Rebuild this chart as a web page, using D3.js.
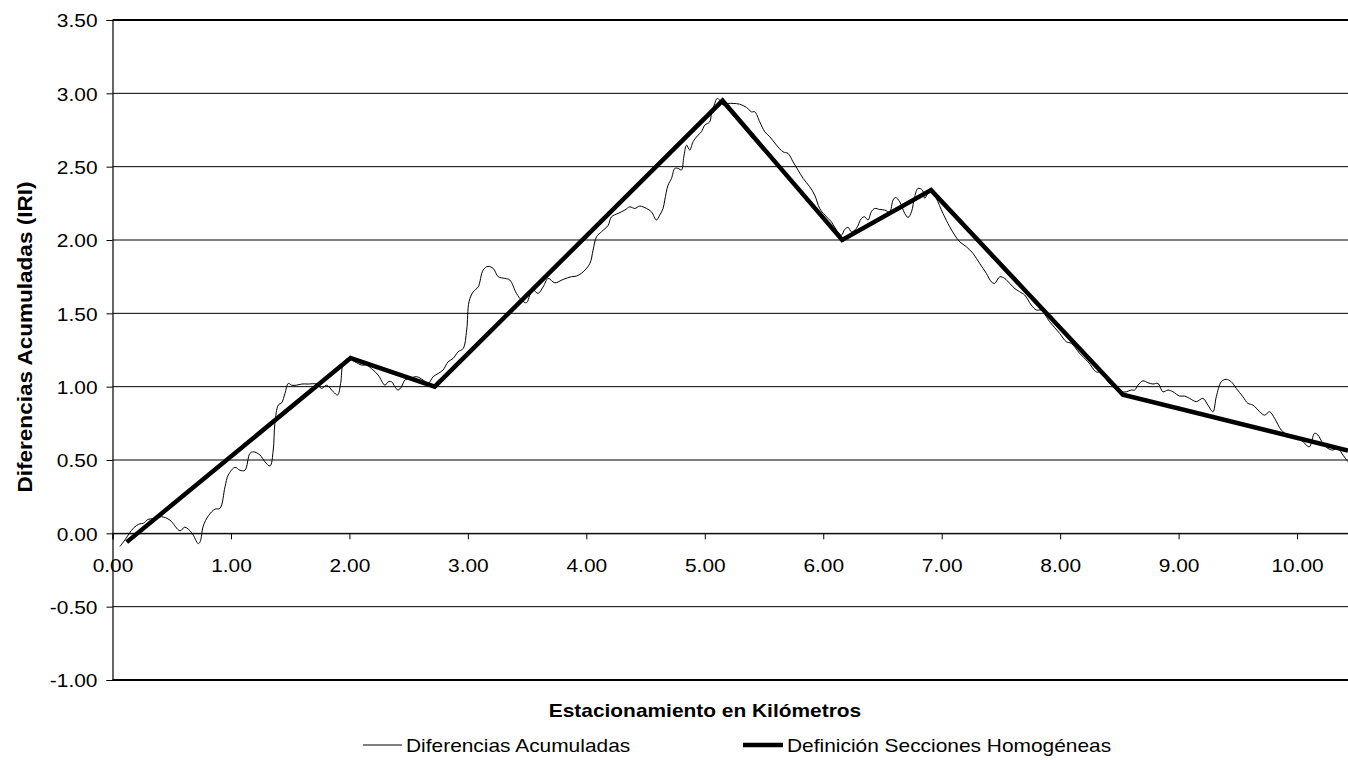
<!DOCTYPE html>
<html>
<head>
<meta charset="utf-8">
<script src="https://cdn.jsdelivr.net/npm/d3@7"></script>
<style>
  html, body { margin: 0; padding: 0; background: #fff; }
  svg { display: block; font-family: Arial, "Liberation Sans", sans-serif; }
</style>
</head>
<body>
<svg id="chart" width="1348" height="760"></svg>
<script>
// ---- data ----
const xTicks = [0, 1, 2, 3, 4, 5, 6, 7, 8, 9, 10];
const yTicks = [-1, -0.5, 0, 0.5, 1, 1.5, 2, 2.5, 3, 3.5];

const kmAcum = [0.063,0.105,0.176,0.23,0.26,0.30,0.345,0.415,0.485,0.57,0.61,0.668,0.724,0.74,0.766,0.81,0.865,0.907,0.95,0.977,1.034,1.076,1.118,1.16,1.19,1.245,1.287,1.33,1.357,1.371,1.40,1.428,1.456,1.484,1.512,1.554,1.597,1.653,1.723,1.765,1.807,1.864,1.90,1.926,1.948,1.99,2.046,2.103,2.145,2.20,2.243,2.30,2.327,2.356,2.384,2.41,2.44,2.468,2.51,2.567,2.623,2.665,2.707,2.75,2.79,2.834,2.876,2.918,2.96,2.99,3.01,3.045,3.087,3.129,3.17,3.214,3.256,3.312,3.354,3.41,3.453,3.495,3.523,3.55,3.593,3.635,3.678,3.734,3.804,3.875,3.917,3.973,4.03,4.057,4.086,4.128,4.184,4.212,4.268,4.325,4.367,4.409,4.451,4.508,4.55,4.592,4.62,4.648,4.662,4.69,4.719,4.747,4.775,4.803,4.823,4.846,4.873,4.901,4.943,4.972,5.0,5.042,5.057,5.084,5.104,5.127,5.154,5.197,5.239,5.295,5.352,5.394,5.422,5.464,5.506,5.549,5.605,5.661,5.703,5.745,5.787,5.83,5.886,5.928,5.97,6.013,6.069,6.111,6.154,6.181,6.21,6.238,6.28,6.322,6.35,6.378,6.406,6.435,6.477,6.519,6.561,6.589,6.61,6.646,6.688,6.716,6.745,6.772,6.80,6.837,6.857,6.884,6.927,6.955,7.011,7.068,7.11,7.152,7.208,7.264,7.321,7.377,7.419,7.447,7.49,7.532,7.574,7.616,7.658,7.70,7.757,7.80,7.84,7.911,7.996,8.052,8.094,8.165,8.235,8.306,8.348,8.404,8.46,8.516,8.559,8.60,8.629,8.657,8.699,8.741,8.783,8.826,8.868,8.91,8.952,9.008,9.05,9.093,9.149,9.205,9.247,9.29,9.318,9.36,9.402,9.445,9.487,9.543,9.585,9.627,9.684,9.726,9.768,9.81,9.867,9.923,9.979,10.035,10.078,10.105,10.148,10.176,10.218,10.26,10.302,10.345,10.387,10.43];
const valAcum = [-0.09,-0.045,0.035,0.065,0.068,0.095,0.10,0.113,0.09,0.017,0.042,0.005,-0.07,-0.057,0.05,0.12,0.165,0.17,0.318,0.397,0.45,0.43,0.43,0.545,0.556,0.534,0.488,0.459,0.568,0.75,0.875,0.89,0.954,1.022,1.01,1.01,1.018,1.018,1.018,0.988,1.01,0.965,0.943,1.022,1.159,1.193,1.17,1.147,1.147,1.113,1.079,1.01,1.033,1.033,1.0,0.977,1.0,1.045,1.056,1.068,1.045,1.022,1.068,1.09,1.113,1.17,1.193,1.238,1.26,1.386,1.58,1.647,1.68,1.795,1.82,1.806,1.75,1.738,1.727,1.636,1.59,1.572,1.624,1.659,1.636,1.68,1.738,1.708,1.731,1.75,1.754,1.783,1.84,1.931,2.022,2.056,2.10,2.158,2.181,2.204,2.226,2.215,2.231,2.215,2.192,2.136,2.17,2.215,2.272,2.374,2.42,2.488,2.488,2.477,2.567,2.647,2.613,2.67,2.715,2.738,2.783,2.806,2.863,2.931,2.965,2.954,2.92,2.931,2.931,2.926,2.904,2.874,2.874,2.806,2.738,2.704,2.647,2.601,2.59,2.533,2.477,2.42,2.363,2.306,2.215,2.17,2.124,2.068,2.033,2.072,2.086,2.056,2.079,2.147,2.158,2.136,2.192,2.215,2.208,2.204,2.192,2.272,2.29,2.26,2.181,2.154,2.192,2.295,2.352,2.34,2.284,2.318,2.329,2.284,2.181,2.09,2.033,1.988,1.954,1.909,1.84,1.772,1.715,1.704,1.749,1.738,1.704,1.67,1.647,1.625,1.556,1.522,1.522,1.443,1.363,1.306,1.295,1.227,1.17,1.10,1.10,1.033,0.988,0.965,0.965,0.977,0.977,1.01,1.04,1.027,1.018,1.022,0.965,0.977,0.965,0.936,0.936,0.92,0.898,0.92,0.875,0.829,0.931,1.033,1.05,1.033,0.988,0.931,0.886,0.875,0.829,0.806,0.829,0.784,0.704,0.67,0.648,0.636,0.602,0.59,0.682,0.67,0.613,0.579,0.568,0.579,0.534,0.488];

const kmSecc = [0.12, 2.01, 2.72, 5.15, 6.16, 6.91, 8.53, 10.43];
const valSecc = [-0.06, 1.195, 1.00, 2.95, 2.00, 2.34, 0.945, 0.565];

const xTitle = "Estacionamiento en Kilómetros";
const yTitle = "Diferencias Acumuladas (IRI)";
const seriesNames = ["Diferencias Acumuladas", "Definición Secciones Homogéneas"];

// ---- layout ----
const svg = d3.select("#chart");
const L = 112.5, R = 1348, T = 20, B = 680;
const x = d3.scaleLinear().domain([0, 10.43]).range([L, R]);
const y = d3.scaleLinear().domain([-1, 3.5]).range([B, T]);
const FS = 19;
const fmt = d => d.toFixed(2);

function stretch(sel, f) {
  sel.each(function() {
    const w = this.getComputedTextLength();
    d3.select(this).attr("textLength", w * f).attr("lengthAdjust", "spacingAndGlyphs");
  });
}

// gridlines
svg.append("g").selectAll("line").data(yTicks).join("line")
  .attr("x1", L).attr("x2", R)
  .attr("y1", d => y(d)).attr("y2", d => y(d))
  .attr("stroke", "#000")
  .attr("stroke-width", d => (d === 3.5 || d === -1) ? 2 : 1);

// y axis
const yAxis = d3.axisLeft(y).tickValues(yTicks).tickSize(6).tickPadding(9).tickFormat(fmt);
const gy = svg.append("g").attr("transform", `translate(${L},0)`).call(yAxis);
gy.select(".domain").attr("stroke", "#000").attr("stroke-width", 1.2);
gy.selectAll(".tick line").attr("stroke", "#000");
gy.selectAll(".tick text").attr("font-size", FS).attr("fill", "#000")
  .attr("font-family", "Arial, 'Liberation Sans', sans-serif").attr("dy", "0.36em");
stretch(gy.selectAll(".tick text"), 1.1);

// x axis at y = 0
const xAxis = d3.axisBottom(x).tickValues(xTicks).tickSize(6).tickPadding(19).tickFormat(fmt);
const gx = svg.append("g").attr("transform", `translate(0,${y(0)})`).call(xAxis);
gx.select(".domain").attr("stroke", "#000").attr("stroke-width", 1);
gx.selectAll(".tick line").attr("stroke", "#000");
gx.selectAll(".tick text").attr("font-size", FS).attr("fill", "#000")
  .attr("font-family", "Arial, 'Liberation Sans', sans-serif");
stretch(gx.selectAll(".tick text"), 1.1);

// clip
svg.append("clipPath").attr("id", "clip").append("rect")
  .attr("x", L).attr("y", T).attr("width", R - L).attr("height", B - T);

const plot = svg.append("g").attr("clip-path", "url(#clip)");

const acum = kmAcum.map((k, i) => [k, valAcum[i]]);
const secc = kmSecc.map((k, i) => [k, valSecc[i]]);

plot.append("path").datum(acum)
  .attr("d", d3.line().x(d => x(d[0])).y(d => y(d[1])).curve(d3.curveCatmullRom.alpha(0.5)))
  .attr("fill", "none").attr("stroke", "#000").attr("stroke-width", 1);

plot.append("path").datum(secc)
  .attr("d", d3.line().x(d => x(d[0])).y(d => y(d[1])))
  .attr("fill", "none").attr("stroke", "#000").attr("stroke-width", 4.5)
  .attr("stroke-linejoin", "miter");

// axis titles
const xt = svg.append("text").attr("x", 705).attr("y", 717)
  .attr("text-anchor", "middle").attr("font-weight", "bold").attr("font-size", FS)
  .text(xTitle);
stretch(xt, 1.1);

const yt = svg.append("text")
  .attr("transform", "translate(32,337) rotate(-90)")
  .attr("text-anchor", "middle").attr("font-weight", "bold").attr("font-size", 20)
  .text(yTitle);
yt.attr("textLength", 311).attr("lengthAdjust", "spacingAndGlyphs");

// legend
const legend = [
  { name: seriesNames[0], x1: 363, x2: 402, w: 1 },
  { name: seriesNames[1], x1: 743, x2: 783, w: 4.5 }
];
const lg = svg.append("g");
legend.forEach(it => {
  lg.append("line").attr("x1", it.x1).attr("x2", it.x2).attr("y1", 745).attr("y2", 745)
    .attr("stroke", "#000").attr("stroke-width", it.w);
  const t = lg.append("text").attr("x", it.x2 + 4).attr("y", 752)
    .attr("font-size", FS).text(it.name);
  stretch(t, 1.1);
});
</script>
</body>
</html>
